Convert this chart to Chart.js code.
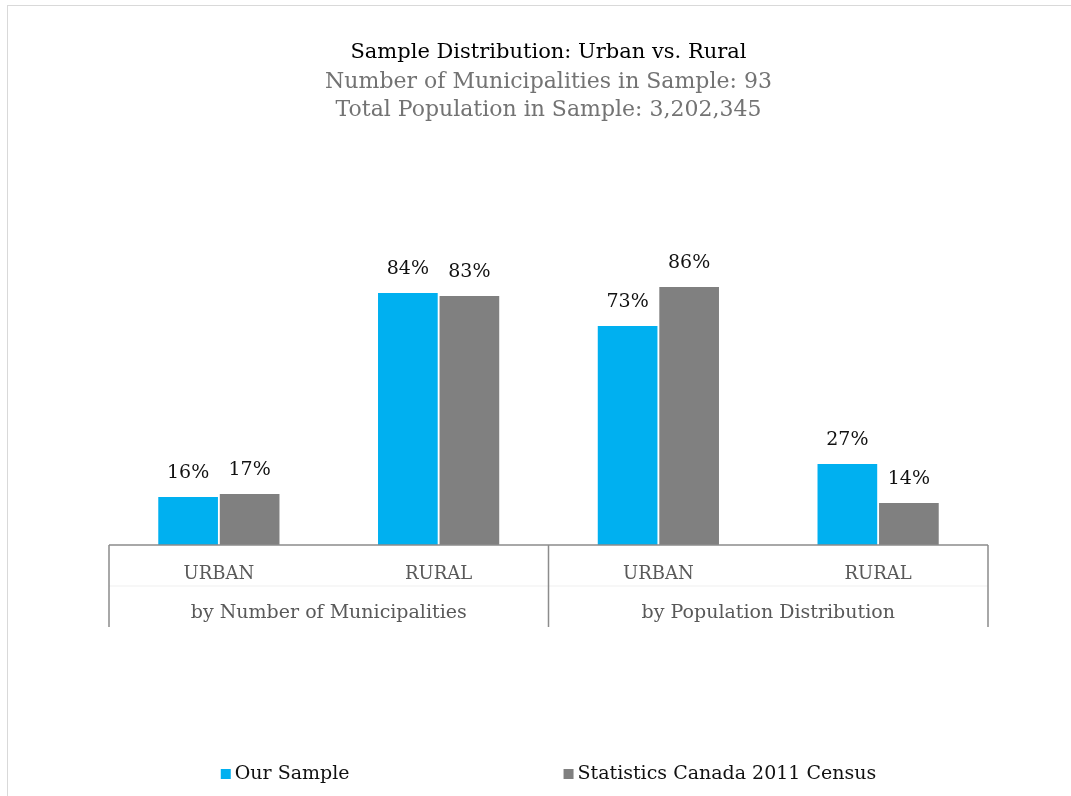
<!DOCTYPE html>
<html lang="en">
<head>
    <meta charset="UTF-8">
    <title>Sample Distribution: Urban vs. Rural</title>
    <script src="https://cdn.jsdelivr.net/npm/chart.js"></script>
    <style>
        html, body { margin: 0; padding: 0; background: #fff; overflow: hidden; }
        /* marco gris claro del grafico (se corta a la derecha y abajo) */
        .marco { position: absolute; left: 7px; top: 5px; width: 1200px; height: 900px; border: 1.5px solid #d9d9d9; }
        #grafico { position: absolute; left: 0; top: 0; }
    </style>
</head>
<body>
    <div class="marco"></div>
    <canvas id="grafico" width="1071" height="796"></canvas>

    <script>
        // Datos del grafico
        const categories = ['URBAN', 'RURAL', 'URBAN', 'RURAL'];
        const groups = ['by Number of Municipalities', 'by Population Distribution'];
        const ourSample = [16, 84, 73, 27];
        const census2011 = [17, 83, 86, 14];
        const seriesNames = ['Our Sample', 'Statistics Canada 2011 Census'];

        const FONT = 'DejaVu Serif';
        const BLUE = '#00b0f0';
        const GREY = '#808080';

        // Etiquetas de valor encima de cada barra
        const valueLabels = {
            id: 'valueLabels',
            afterDatasetsDraw(chart) {
                const ctx = chart.ctx;
                ctx.save();
                ctx.font = '19px "' + FONT + '"';
                ctx.fillStyle = '#111';
                ctx.textAlign = 'center';
                ctx.textBaseline = 'middle';
                chart.data.datasets.forEach((ds, i) => {
                    chart.getDatasetMeta(i).data.forEach((bar, j) => {
                        ctx.fillText(ds.data[j] + '%', bar.x, bar.y - 24);
                    });
                });
                ctx.restore();
            }
        };

        // Eje X de dos niveles (categoria + grupo) y leyenda inferior
        const groupedAxis = {
            id: 'groupedAxis',
            afterDraw(chart) {
                const ctx = chart.ctx;
                const area = chart.chartArea;
                const x = chart.scales.x;
                const catW = (area.right - area.left) / categories.length;
                const bottom = area.bottom;
                ctx.save();

                // linea tenue entre las dos filas de etiquetas
                ctx.strokeStyle = '#efefef';
                ctx.lineWidth = 1;
                ctx.beginPath();
                ctx.moveTo(area.left, bottom + 41);
                ctx.lineTo(area.right, bottom + 41);
                ctx.stroke();

                // linea del eje y separadores de grupo
                ctx.strokeStyle = '#8c8c8c';
                ctx.lineWidth = 1.5;
                ctx.beginPath();
                ctx.moveTo(area.left, bottom);
                ctx.lineTo(area.right, bottom);
                for (let g = 0; g <= groups.length; g++) {
                    const px = area.left + g * 2 * catW;
                    ctx.moveTo(px, bottom);
                    ctx.lineTo(px, bottom + 82);
                }
                ctx.stroke();

                ctx.fillStyle = '#595959';
                ctx.textAlign = 'center';
                ctx.textBaseline = 'middle';
                ctx.font = '18px "' + FONT + '"';
                categories.forEach((c, i) => {
                    ctx.fillText(c, x.getPixelForValue(i), bottom + 29);
                });
                ctx.font = '19px "' + FONT + '"';
                groups.forEach((g, i) => {
                    const cx = (x.getPixelForValue(2 * i) + x.getPixelForValue(2 * i + 1)) / 2;
                    ctx.fillText(g, cx, bottom + 68);
                });

                // leyenda
                ctx.font = '19px "' + FONT + '"';
                ctx.textAlign = 'left';
                const gap = 214;
                const box = 10;
                const widths = seriesNames.map(n => box + 4 + ctx.measureText(n).width);
                const total = widths[0] + gap + widths[1];
                let lx = (area.left + area.right) / 2 - total / 2;
                const ly = 774;
                chart.data.datasets.forEach((ds, i) => {
                    ctx.fillStyle = ds.backgroundColor;
                    ctx.fillRect(lx, ly - 5, box, box);
                    ctx.fillStyle = '#111';
                    ctx.fillText(ds.label, lx + box + 4, ly);
                    lx += widths[i] + gap;
                });
                ctx.restore();
            }
        };

        const ctxGrafico = document.getElementById('grafico').getContext('2d');
        const grafico = new Chart(ctxGrafico, {
            type: 'bar',
            data: {
                labels: categories,
                datasets: [
                    {
                        label: seriesNames[0],
                        data: ourSample,
                        backgroundColor: BLUE,
                        borderWidth: 0,
                        categoryPercentage: 0.56,
                        barPercentage: 0.97
                    },
                    {
                        label: seriesNames[1],
                        data: census2011,
                        backgroundColor: GREY,
                        borderWidth: 0,
                        categoryPercentage: 0.56,
                        barPercentage: 0.97
                    }
                ]
            },
            options: {
                responsive: false,
                animation: false,
                devicePixelRatio: 1,
                layout: {
                    padding: { top: 0, left: 109, right: 83, bottom: 251 }
                },
                scales: {
                    x: { display: false },
                    y: { display: false, min: 0, max: 100 }
                },
                plugins: {
                    legend: { display: false },
                    tooltip: { enabled: false },
                    title: {
                        display: true,
                        text: 'Sample Distribution: Urban vs. Rural',
                        color: '#000',
                        font: { family: FONT, size: 21, weight: 'normal', lineHeight: '26px' },
                        padding: { top: 40, bottom: 2 }
                    },
                    subtitle: {
                        display: true,
                        text: ['Number of Municipalities in Sample: 93', 'Total Population in Sample: 3,202,345'],
                        color: '#737373',
                        font: { family: FONT, size: 22, weight: 'normal', lineHeight: '28px' },
                        padding: { top: 0, bottom: 121 }
                    }
                }
            },
            plugins: [valueLabels, groupedAxis]
        });
    </script>
</body>
</html>
